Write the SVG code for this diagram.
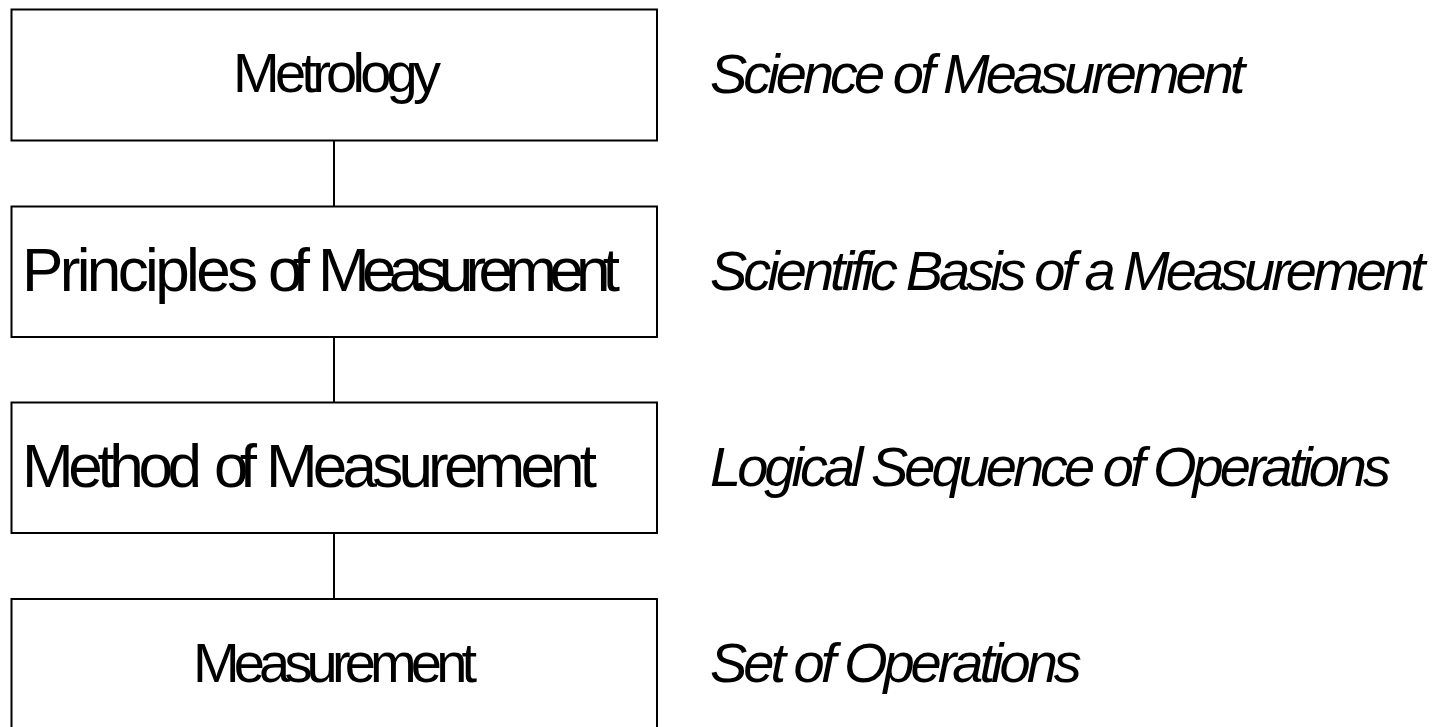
<svg xmlns="http://www.w3.org/2000/svg" width="1439" height="727" viewBox="0 0 1439 727">
  <style>
    .box { fill: #ffffff; stroke: #000000; stroke-width: 2; }
    .link { stroke: #000000; stroke-width: 2; fill: none; }
    .label { font-family: "Liberation Sans", Arial, sans-serif; font-size: 56px; fill: #000000; }
    .big { font-size: 62px; }
    .note { font-family: "Liberation Sans", Arial, sans-serif; font-size: 56px; font-style: italic; letter-spacing: -4px; fill: #000000; }
  </style>
  <rect width="1439" height="727" fill="#ffffff"/>
  <g id="connectors">
    <line class="link" x1="334" y1="140.5" x2="334" y2="206.5"/>
    <line class="link" x1="334" y1="337" x2="334" y2="402.5"/>
    <line class="link" x1="334" y1="533" x2="334" y2="599"/>
  </g>
  <g id="metrology">
    <rect class="box" x="11.5" y="9.5" width="645.5" height="131"/>
    <text class="label" x="233" y="92" textLength="208" lengthAdjust="spacing">Metrology</text>
    <text class="note" x="710" y="93">Science of Measurement</text>
  </g>
  <g id="principles">
    <rect class="box" x="11.5" y="206.5" width="645.5" height="130.5"/>
    <text class="label big" y="291"><tspan x="22" textLength="236" lengthAdjust="spacing">Principles</tspan> <tspan x="268" textLength="42" lengthAdjust="spacing">of</tspan> <tspan x="318" textLength="302" lengthAdjust="spacing">Measurement</tspan></text>
    <text class="note" x="710" y="290">Scientific Basis of a Measurement</text>
  </g>
  <g id="method">
    <rect class="box" x="11.5" y="402.5" width="645.5" height="130.5"/>
    <text class="label big" y="487"><tspan x="22" textLength="180" lengthAdjust="spacing">Method</tspan> <tspan x="214" textLength="43" lengthAdjust="spacing">of</tspan> <tspan x="266" textLength="331" lengthAdjust="spacing">Measurement</tspan></text>
    <text class="note" x="710" y="486">Logical Sequence of Operations</text>
  </g>
  <g id="measurement">
    <rect class="box" x="11.5" y="599" width="645.5" height="140"/>
    <text class="label" x="193" y="682" textLength="284" lengthAdjust="spacing">Measurement</text>
    <text class="note" x="710" y="682">Set of Operations</text>
  </g>
</svg>
